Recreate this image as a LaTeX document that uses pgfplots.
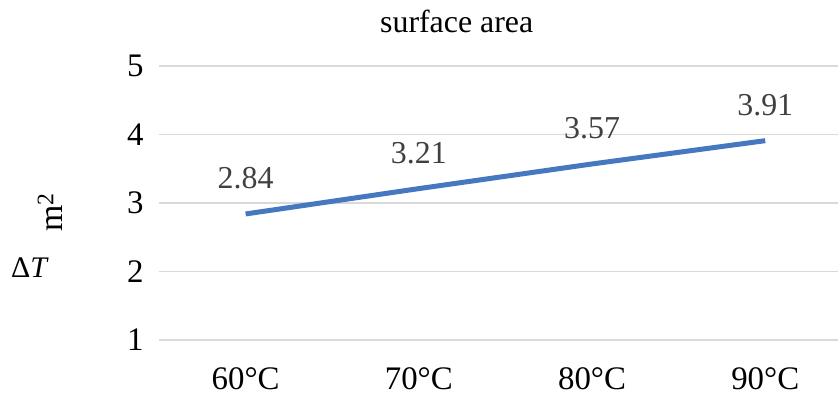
\documentclass[border=0pt]{standalone}
\usepackage{pgfplots}
\pgfplotsset{compat=1.18}
\usepackage{fontspec}
\setmainfont{Liberation Serif}
\definecolor{lineblue}{RGB}{70,120,192}
\definecolor{gridgray}{RGB}{217,217,217}
\definecolor{labgray}{RGB}{64,64,64}
\begin{document}
\begin{tikzpicture}[x=1bp,y=1bp]
\useasboundingbox (0,0) rectangle (840,396);
\begin{axis}[
  at={(159bp,56bp)}, anchor=south west,
  scale only axis, width=679bp, height=274bp,
  xmin=-0.5, xmax=3.42, ymin=1, ymax=5,
  xtick={0,1,2,3},
  xticklabels={60\textdegree C,70\textdegree C,80\textdegree C,90\textdegree C},
  ytick={1,2,3,4,5},
  ymajorgrids, major grid style={gridgray, line width=1.3bp},
  axis line style={draw=none},
  axis x line*=bottom,
  major tick length=0pt,
  tick style={draw=none},
  /pgf/number format/assume math mode=true,
  tick label style={font=\fontsize{33}{36}\selectfont, text=black},
  yticklabel style={anchor=east, xshift=-12bp},
  xticklabel style={anchor=base, yshift=-49bp, inner sep=1bp},
  clip=false,
  nodes near coords,
  point meta=explicit symbolic,
  nodes near coords style={font=\fontsize{32}{36}\selectfont, text=labgray, anchor=base, yshift=25bp},
]
\draw[gridgray, line width=1.3bp] (axis cs:-0.5,1) -- (axis cs:3.42,1);
\addplot[lineblue, line width=5bp, mark=none] table[meta=lab] {
x y lab
0 2.84 2.84
1 3.21 3.21
2 3.57 3.57
3 3.91 3.91
};
\end{axis}
\node[font=\fontsize{32}{36}\selectfont, anchor=base] at (456.7,364) {surface area};
\node[font=\fontsize{34}{38}\selectfont, rotate=90] at (50,184) {m\textsuperscript{2}};
\node[font=\fontsize{30}{33}\selectfont] at (30,128) {Δ\textit{T}};
\end{tikzpicture}
\end{document}
